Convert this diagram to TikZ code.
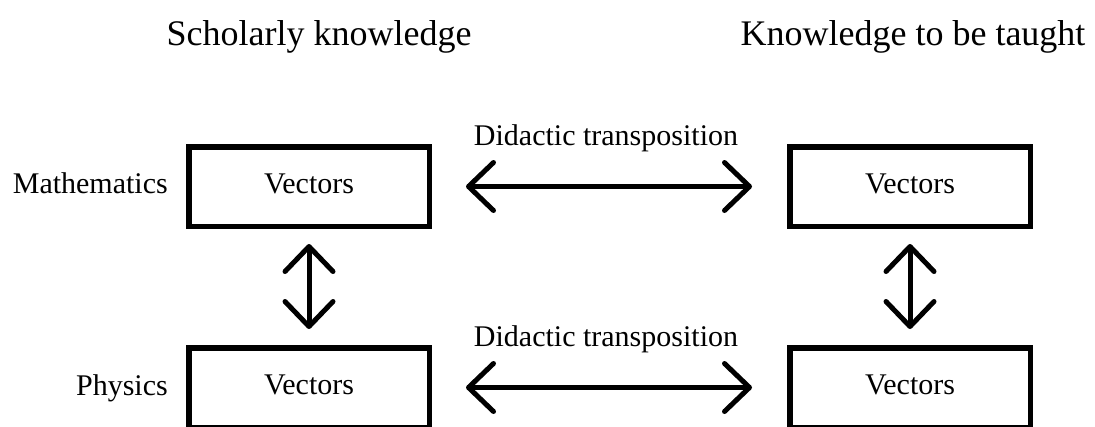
\documentclass[tikz,border=0pt]{standalone}
\usepackage{fontspec}
\setmainfont{Liberation Serif}
\usetikzlibrary{arrows.meta}
\begin{document}
\begin{tikzpicture}[x=1pt,y=-1pt,
  vbox/.style={draw=black, line width=5.5pt, minimum width=240.5pt, minimum height=79.5pt,
    inner sep=0pt, text height=20pt, text depth=7pt, font=\fontsize{30}{36}\selectfont},
  lbl/.style={inner sep=0pt, font=\fontsize{30}{36}\selectfont},
  ttl/.style={inner sep=0pt, font=\fontsize{36}{42}\selectfont},
  dbl/.style={line width=5pt, {Straight Barb[length=25pt,width=48pt,line cap=round,line join=round]}-{Straight Barb[length=25pt,width=48pt,line cap=round,line join=round]}}
]
\useasboundingbox (0,0) rectangle (1095,426);
\begin{scope}
\clip (0,0) rectangle (1095,426);
\node[ttl, anchor=base] (sk) at (319,45) {Scholarly knowledge};
\node[ttl, anchor=base] (kt) at (913,45) {Knowledge to be taught};

\node[vbox] (tl) at (309,186.5) {Vectors};
\node[vbox] (tr) at (910,186.5) {Vectors};
\node[vbox] (bl) at (309,387.5) {Vectors};
\node[vbox] (br) at (910,387.5) {Vectors};

\node[lbl, anchor=base east] (math) at (168,193) {Mathematics};
\node[lbl, anchor=base east] (phys) at (168,395) {Physics};

\node[lbl, anchor=base] (dt1) at (606,145) {Didactic transposition};
\node[lbl, anchor=base] (dt2) at (606,346) {Didactic transposition};

\draw[dbl, shorten <=34pt, shorten >=35pt] (tl.east) -- (tr.west);
\draw[dbl, shorten <=34pt, shorten >=35pt] (bl.east) -- (br.west);
\draw[dbl, shorten <=15pt, shorten >=16pt] (tl.south) -- (bl.north);
\draw[dbl, shorten <=15pt, shorten >=16pt] (tr.south) -- (br.north);
\end{scope}
\end{tikzpicture}
\end{document}
